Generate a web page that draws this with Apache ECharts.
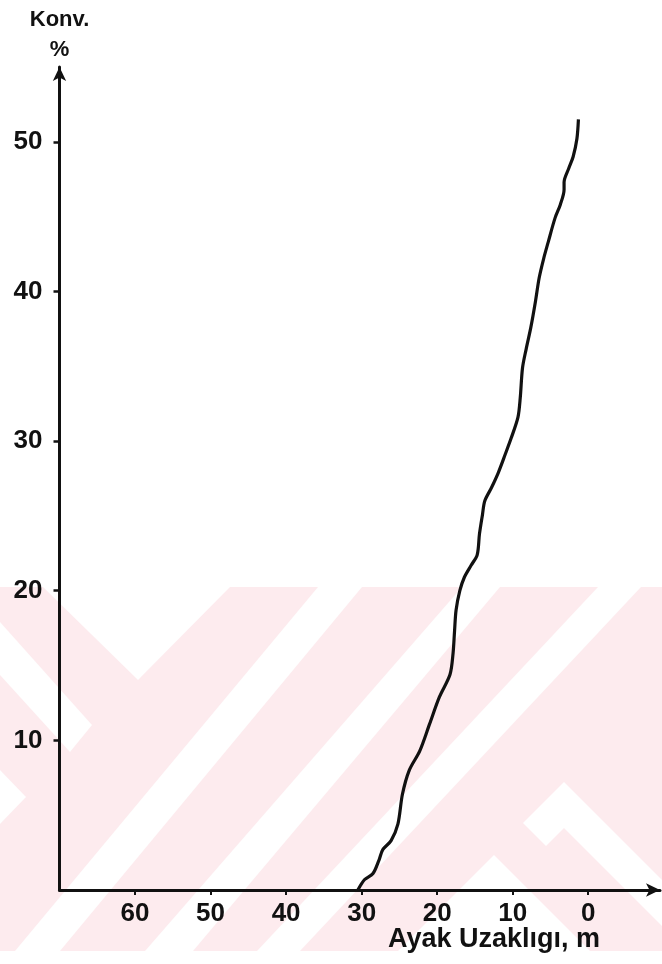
<!DOCTYPE html>
<html>
<head>
<meta charset="utf-8">
<script src="https://cdn.jsdelivr.net/npm/echarts@6/dist/echarts.min.js"></script>
<style>
html,body{margin:0;padding:0;background:#fff;}
#chart{width:662px;height:964px;}
</style>
</head>
<body>
<div id="chart"></div>
<script>
// distance (m), bottom to top
var distance = [30.5,29.6,28.5,27.7,27.2,26.1,25.2,24.6,23.7,22.3,21.0,19.7,18.3,17.9,17.7,17.5,17.0,16.4,15.5,14.7,14.4,14.0,13.7,12.8,11.9,11.0,10.2,9.3,9.0,8.7,8.2,7.6,7.0,6.5,5.9,5.3,4.4,3.7,3.2,3.2,2.6,2.0,1.5,1.3];
// conversion (%) at each point
var conversion = [0,0.7,1.1,2.0,2.7,3.3,4.4,6.4,8.0,9.3,11.1,12.9,14.4,15.8,17.3,18.7,20.0,20.9,21.7,22.4,23.8,25.1,26.0,26.9,27.9,29.1,30.2,31.6,32.9,34.9,36.2,37.6,39.3,40.9,42.2,43.3,44.9,45.8,46.8,47.3,48.2,49.0,50.2,51.5];
var xTicks = [0,10,20,30,40,50,60];
var yTicks = [10,20,30,40,50];
var xName = 'Ayak Uzaklıgı, m';
var yName = 'Konv.\n%';

var points = distance.map(function(d,i){return [d, conversion[i]];});

// background watermark shapes (decoration)
var pink = '#fdebee';
var whiteShapes = [
  [[43,587],[230,587],[138,680]],
  [[0,622],[92,725],[70,752],[0,675]],
  [[0,770],[26,797],[0,824]],
  [[15,951],[60,951],[362,587],[318,587]],
  [[145,951],[193,951],[500,587],[462,587]],
  [[598,587],[641,587],[300,951],[257,951]],
  [[564,782],[662,880],[662,926],[564,828],[546,846],[523,823]],
  [[494,855],[590,951],[398,951]]
];
var graphics = [{type:'rect', z:-10, shape:{x:0,y:587,width:662,height:364}, style:{fill:pink}}];
whiteShapes.forEach(function(p){
  graphics.push({type:'polygon', z:-9, shape:{points:p}, style:{fill:'#fff'}});
});
graphics.push({type:'text', left:388, top:926, z:5, style:{text:xName, fill:'#111', font:'bold 27px "Liberation Sans", Arial, sans-serif'}});

var chart = echarts.init(document.getElementById('chart'), null, {renderer:'canvas'});
chart.setOption({
  backgroundColor:'#fff',
  animation:false,
  graphic: graphics,
  grid:{left:59.5, right:2, top:67, bottom:74, containLabel:false},
  xAxis:{
    type:'value', inverse:true, min:-9.5, max:70,
    splitLine:{show:false},
    axisLine:{show:true, onZero:false, lineStyle:{color:'#111', width:3}, symbol:['none','arrow'], symbolSize:[10,14]},
    axisTick:{show:true, inside:false, length:5, lineStyle:{color:'#111', width:2}, customValues:xTicks},
    axisLabel:{show:true, margin:11, color:'#111', fontSize:26, fontWeight:'bold', fontFamily:'"Liberation Sans", Arial, sans-serif', customValues:xTicks}
  },
  yAxis:{
    type:'value', position:'left', min:0, max:55,
    name:yName, nameLocation:'end', nameGap:2,
    nameTextStyle:{color:'#111', fontSize:22, fontWeight:'bold', fontFamily:'"Liberation Sans", Arial, sans-serif', lineHeight:30, align:'center', verticalAlign:'bottom'},
    splitLine:{show:false},
    axisLine:{show:true, onZero:false, lineStyle:{color:'#111', width:3}, symbol:['none','arrow'], symbolSize:[10,14]},
    axisTick:{show:true, inside:false, length:6, lineStyle:{color:'#111', width:2.5}, customValues:yTicks},
    axisLabel:{show:true, margin:17, color:'#111', fontSize:26, fontWeight:'bold', fontFamily:'"Liberation Sans", Arial, sans-serif', customValues:yTicks}
  },
  series:[{
    type:'line', data:points, showSymbol:false, symbol:'none', smooth:0.3,
    lineStyle:{color:'#111', width:3.2}, z:3
  }]
});
</script>
</body>
</html>
